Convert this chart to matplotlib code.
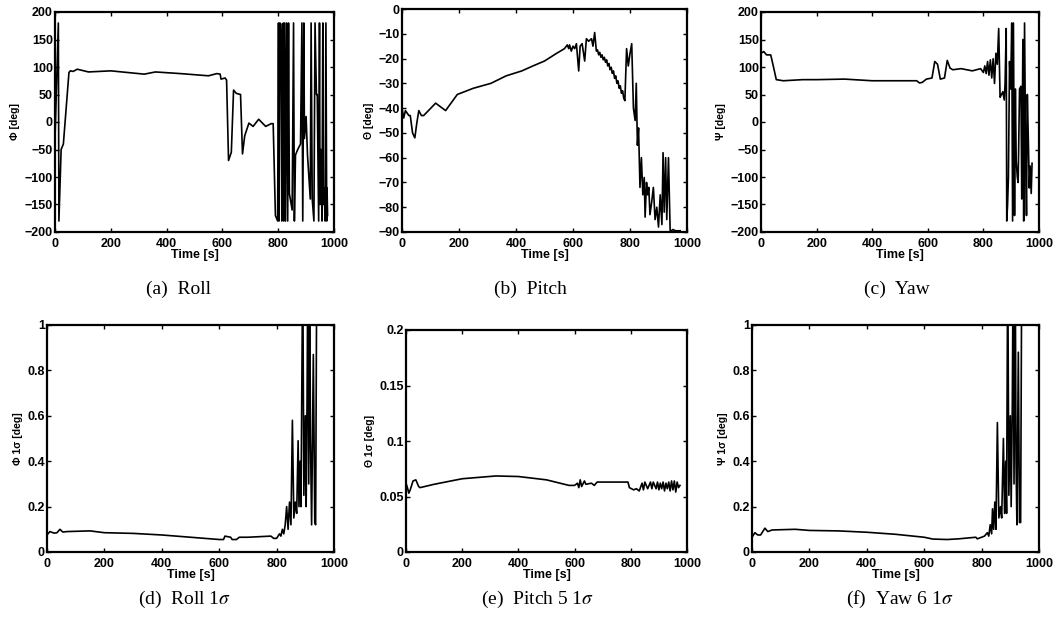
import matplotlib
matplotlib.use("Agg")
import matplotlib.pyplot as plt
from matplotlib.ticker import FuncFormatter, MultipleLocator

# ---------------- data ----------------
roll_t = [0, 12, 14, 22, 30, 50, 55, 65, 80, 120, 200, 320, 360, 450, 550, 580, 592, 595, 610, 615,
          622, 632, 640, 650, 665, 672, 680, 695, 710, 730, 755, 775, 782, 790, 798, 801, 803, 806,
          810, 813, 815, 818, 820, 823, 826, 830, 834, 837, 840, 850, 855, 858, 862, 870, 880, 885,
          888, 892, 894, 900, 905, 915, 918, 922, 928, 932, 937, 940, 945, 948, 950, 953, 957, 960,
          962, 965, 968, 971, 974, 975, 977]
roll_v = [-30, 180, -180, -50, -40, 90, 93, 92, 96, 91, 93, 87, 91, 88, 84, 88, 87, 78, 80, 76,
          -70, -55, 58, 52, 50, -58, -25, -2, -8, 5, -8, -3, -3, -170, -180, 180, -180, 180,
          178, -180, 160, 180, -180, 180, -180, 180, -180, 180, -130, -160, 180, -180, -60, -50, -40, 180,
          -180, 180, -30, 10, -60, -140, 180, -140, -180, 180, 50, 50, -180, 180, -150, -50, -180, 180,
          -150, -120, -180, 180, -180, -120, -170]

pitch_t = [0, 6, 12, 18, 24, 29, 37, 45, 52, 59, 68, 76, 118, 153, 194, 250, 312, 365, 420, 459,
           500, 541, 570, 580, 585, 588, 594, 600, 606, 612, 620, 625, 632, 641, 647, 655, 665, 670,
           676, 682, 686, 690, 694, 698, 702, 706, 710, 714, 718, 722, 726, 730, 734, 738, 742, 746,
           750, 754, 758, 762, 766, 770, 774, 778, 782, 788, 794, 800, 806, 812, 818, 822, 826, 830,
           835, 840, 845, 850, 853, 858, 862, 866, 870, 876, 882, 888, 894, 900, 906, 912, 916, 920,
           925, 929, 935, 941, 950, 960, 976]
pitch_v = [-40, -44, -41, -42, -43, -43, -50, -52, -46, -41, -43, -43, -38, -41, -34.5, -32, -30, -27, -25, -23,
           -21, -18, -16, -14.5, -16, -14.5, -17, -15, -16, -14, -25, -15, -14, -21, -12, -13, -12, -15,
           -9.5, -17, -16.5, -18.5, -17.5, -19.5, -18.5, -20.5, -19.5, -21.5, -20.5, -23, -22, -24.5, -23.5, -26, -25, -28,
           -27, -30, -29, -32, -31, -34, -33, -36, -37, -16, -23, -18, -14, -40, -45, -30, -55, -48,
           -72, -60, -75, -68, -84, -70, -75, -72, -83, -78, -72, -85, -80, -88, -75, -87, -58, -82,
           -60, -85, -60, -90, -89, -89.5, -89.5]

yaw_t = [0, 10, 20, 35, 45, 55, 80, 150, 200, 300, 400, 560, 570, 580, 595, 615, 625, 635, 645, 660,
         670, 680, 690, 720, 760, 790, 800, 805, 810, 815, 820, 825, 830, 835, 840, 845, 850, 855,
         860, 865, 870, 875, 878, 882, 884, 887, 890, 894, 898, 902, 905, 908, 912, 915, 918, 922,
         925, 930, 935, 938, 942, 945, 948, 952, 955, 958, 962, 965, 968, 972, 975]
yaw_v = [125, 128, 122, 122, 100, 77, 75, 77, 77, 78, 75, 75, 71, 72, 78, 80, 110, 105, 78, 80,
         112, 98, 95, 97, 93, 97, 90, 102, 88, 110, 85, 113, 80, 115, 70, 125, 105, 170,
         45, 50, 55, 40, 70, 170, -180, -150, -100, 110, 60, 180, -180, 180, -170, 60, -70, -100,
         -110, 60, 65, -140, 150, -180, 180, -60, -170, 50, -40, -120, -80, -130, -75]

rsig_t = [0, 10, 25, 35, 45, 55, 70, 150, 200, 300, 400, 500, 600, 615, 620, 640, 645, 660, 670, 700,
          780, 790, 800, 810, 815, 820, 825, 830, 835, 840, 845, 850, 855, 860, 865, 870, 875, 878,
          882, 885, 891, 895, 900, 903, 906, 909, 912, 915, 918, 922, 928, 933, 936, 940]
rsig_v = [0.075, 0.09, 0.083, 0.085, 0.1, 0.088, 0.09, 0.093, 0.085, 0.082, 0.075, 0.065, 0.055, 0.055, 0.07,
          0.065, 0.055, 0.055, 0.065, 0.065, 0.07, 0.06, 0.06, 0.08, 0.07, 0.1, 0.08, 0.12, 0.2, 0.1, 0.22,
          0.12, 0.58, 0.15, 0.22, 0.17, 0.49, 0.2, 0.4, 0.2, 1.3, 0.25, 0.6, 0.2, 0.65, 1.3, 0.3, 1.3,
          0.5, 0.12, 0.87, 0.13, 0.12, 1.3]

psig_t = [0, 5, 10, 15, 25, 35, 45, 50, 100, 200, 320, 400, 500, 580, 600, 610, 615, 620, 625, 635,
          640, 660, 670, 680, 780, 790, 795, 810, 820, 830, 840, 845, 850, 860, 870, 875, 880, 890,
          895, 900, 905, 910, 915, 920, 925, 930, 935, 940, 945, 950, 955, 960, 965, 970, 975]
psig_v = [0.062, 0.058, 0.053, 0.056, 0.064, 0.065, 0.059, 0.058, 0.061, 0.066, 0.0685, 0.068, 0.065, 0.06,
          0.06, 0.062, 0.058, 0.065, 0.059, 0.064, 0.061, 0.062, 0.06, 0.063, 0.063, 0.063, 0.058, 0.056,
          0.057, 0.055, 0.062, 0.056, 0.063, 0.057, 0.063, 0.057, 0.063, 0.057, 0.063, 0.056, 0.062, 0.057,
          0.063, 0.055, 0.062, 0.057, 0.063, 0.055, 0.064, 0.056, 0.064, 0.054, 0.063, 0.058, 0.06]

ysig_t = [0, 10, 20, 30, 45, 55, 70, 150, 200, 300, 400, 500, 600, 630, 680, 720, 780, 785, 800, 810,
          820, 825, 830, 835, 838, 842, 846, 850, 855, 860, 866, 870, 876, 880, 884, 887, 891, 895,
          900, 903, 907, 910, 913, 917, 920, 923, 928, 932, 936, 940]
ysig_v = [0.065, 0.085, 0.075, 0.075, 0.105, 0.09, 0.097, 0.1, 0.095, 0.093, 0.087, 0.078, 0.065, 0.057,
          0.055, 0.058, 0.065, 0.058, 0.065, 0.07, 0.085, 0.07, 0.12, 0.08, 0.19, 0.1, 0.22, 0.1, 0.57,
          0.15, 0.2, 0.15, 0.5, 0.17, 0.4, 0.17, 1.3, 0.25, 0.6, 0.2, 0.65, 1.3, 0.3, 1.3, 0.4, 0.12,
          0.88, 0.13, 0.13, 1.3]

# ---------------- layout ----------------
W, H = 1059, 626
fig = plt.figure(figsize=(W / 100, H / 100), dpi=100)


def rect(l, r, t, b):
    return [l / W, 1 - b / H, (r - l) / W, (b - t) / H]


panels = [
    dict(t=roll_t, v=roll_v, pos=rect(55, 334, 12, 232), ylim=(-200, 200), ystep=50,
         ylabel="Φ [deg]", cap="(a)  Roll", capx=178, capy=289),
    dict(t=pitch_t, v=pitch_v, pos=rect(402, 687, 9, 232), ylim=(-90, 0), ystep=10,
         ylabel="Θ [deg]", cap="(b)  Pitch", capx=530, capy=289),
    dict(t=yaw_t, v=yaw_v, pos=rect(761, 1039, 12, 232), ylim=(-200, 200), ystep=50,
         ylabel="Ψ [deg]", cap="(c)  Yaw", capx=897, capy=289),
    dict(t=rsig_t, v=rsig_v, pos=rect(47, 334, 325, 552), ylim=(0, 1), ystep=0.2,
         ylabel="Φ 1σ [deg]", cap="(d)  Roll 1$\\sigma$", capx=185, capy=599),
    dict(t=psig_t, v=psig_v, pos=rect(406, 687, 330, 552), ylim=(0, 0.2), ystep=0.05,
         ylabel="Θ 1σ [deg]", cap="(e)  Pitch 5 1$\\sigma$", capx=538, capy=599),
    dict(t=ysig_t, v=ysig_v, pos=rect(752, 1039, 325, 552), ylim=(0, 1), ystep=0.2,
         ylabel="Ψ 1σ [deg]", cap="(f)  Yaw 6 1$\\sigma$", capx=900, capy=599),
]

plt.rcParams['mathtext.fontset'] = 'stix'
sans = "Liberation Sans"
fmt = FuncFormatter(lambda x, p: ("%g" % round(x, 6)).replace("-", "\u2212"))

for p in panels:
    ax = fig.add_axes(p["pos"])
    ax.plot(p["t"], p["v"], color="black", lw=1.2)
    ax.set_xlim(0, 1000)
    ax.set_ylim(*p["ylim"])
    ax.xaxis.set_major_locator(MultipleLocator(200))
    ax.yaxis.set_major_locator(MultipleLocator(p["ystep"]))
    ax.xaxis.set_major_formatter(fmt)
    ax.yaxis.set_major_formatter(fmt)
    ax.tick_params(direction="in", length=3, width=1, top=True, right=True,
                   labelsize=9)
    ax.tick_params(axis="x", pad=4)
    ax.tick_params(axis="y", pad=1.5)
    for lab in ax.get_xticklabels() + ax.get_yticklabels():
        lab.set_fontfamily(sans)
        lab.set_fontweight("bold")
    for s in ax.spines.values():
        s.set_linewidth(1.6)
    ax.set_xlabel("Time [s]", fontfamily=sans, fontweight="bold", fontsize=9, labelpad=-0.5)
    ax.set_ylabel(p["ylabel"], fontfamily=sans, fontweight="bold", fontsize=7.5, labelpad=3)
    fig.text(p["capx"] / W, 1 - p["capy"] / H, p["cap"], ha="center", va="center",
             fontfamily="Liberation Serif", fontsize=14)

fig.savefig("out.png", dpi=100)
